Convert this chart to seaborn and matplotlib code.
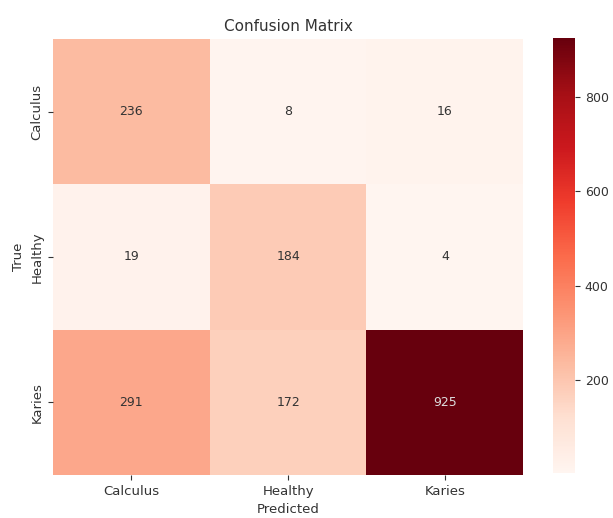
import numpy as np
import pandas as pd
import matplotlib
matplotlib.use("Agg")
import matplotlib.pyplot as plt
import seaborn as sns

classes = ["Calculus", "Healthy", "Karies"]
row_calculus = [236, 8, 16]
row_healthy = [19, 184, 4]
row_karies = [291, 172, 925]

cm = pd.DataFrame([row_calculus, row_healthy, row_karies], index=classes, columns=classes)

fig = plt.figure(figsize=(6.13, 5.18), dpi=100)
ax = fig.add_axes([0.0865, 0.083, 0.767, 0.842])
cax = fig.add_axes([0.902, 0.087, 0.036, 0.84])

sns.heatmap(cm, annot=True, fmt="d", cmap="Reds", ax=ax, cbar_ax=cax,
            annot_kws={"fontsize": 9, "color": "#333333"})
for t in ax.texts:
    if t.get_text() == "925":
        t.set_color("#dddddd")

ax.set_title("Confusion Matrix", fontsize=11, color="#333333")
ax.set_xlabel("Predicted", fontsize=9.5, color="#333333")
ax.set_ylabel("True", fontsize=9.5, color="#333333")
ax.tick_params(labelsize=9.5, colors="#333333")
cax.tick_params(labelsize=9, colors="#333333")
cax.set_yticks([200, 400, 600, 800])

fig.savefig("out.png", dpi=100)
